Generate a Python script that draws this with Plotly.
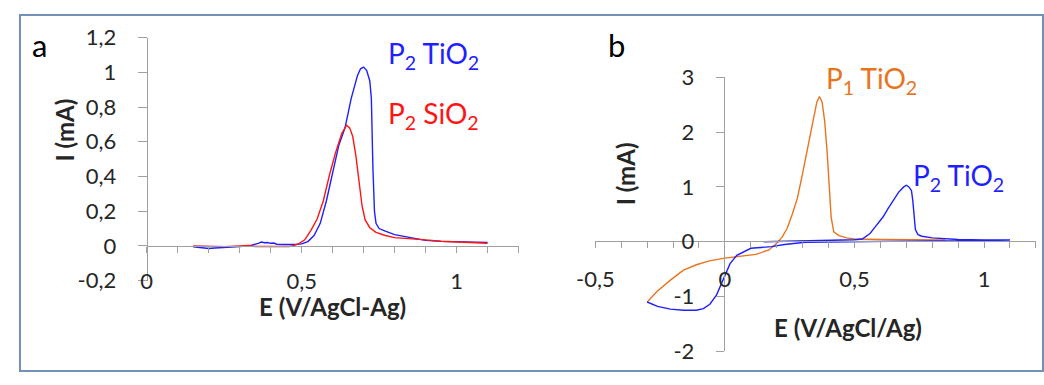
import plotly.graph_objects as go

W, H = 1044, 385
# the photographed page carries the default 8 px body margin and is fitted back into the window;
# positions below are given in window pixels of the reference and converted to figure pixels.
SX, SY = (W + 16) / W, (H + 16) / H

# ---------------- data ----------------
# panel a : P2 on TiO2 (blue)
a_ti_x = [0.15, 0.18, 0.20, 0.22, 0.25, 0.28, 0.30, 0.33, 0.35, 0.36, 0.37, 0.38, 0.39, 0.40,
          0.41, 0.42, 0.44, 0.46, 0.48, 0.50, 0.52, 0.54, 0.56, 0.58, 0.60, 0.62, 0.64, 0.66,
          0.68, 0.69, 0.70, 0.71, 0.72, 0.725, 0.73, 0.735, 0.74, 0.75, 0.77, 0.80, 0.83, 0.86,
          0.90, 0.95, 1.00, 1.05, 1.10]
a_ti_y = [-0.005, -0.012, -0.015, -0.012, -0.010, -0.006, -0.004, 0.000, 0.008, 0.015, 0.022,
          0.018, 0.020, 0.015, 0.017, 0.010, 0.008, 0.006, 0.008, 0.012, 0.025, 0.06, 0.13,
          0.26, 0.42, 0.58, 0.68, 0.85, 0.98, 1.02, 1.03, 1.01, 0.95, 0.85, 0.45, 0.20, 0.13,
          0.10, 0.085, 0.065, 0.055, 0.045, 0.032, 0.026, 0.024, 0.022, 0.020]
# panel a : P2 on SiO2 (red)
a_si_x = [0.15, 0.20, 0.25, 0.30, 0.33, 0.35, 0.38, 0.40, 0.43, 0.46, 0.47, 0.49, 0.51, 0.53,
          0.55, 0.57, 0.59, 0.61, 0.63, 0.645, 0.655, 0.665, 0.675, 0.685, 0.695, 0.705, 0.72,
          0.74, 0.77, 0.80, 0.85, 0.90, 0.95, 1.00, 1.05, 1.10]
a_si_y = [0.000, -0.003, -0.004, 0.000, 0.003, -0.003, -0.004, -0.002, -0.003, -0.003, 0.000,
          0.012, 0.035, 0.09, 0.155, 0.26, 0.41, 0.54, 0.65, 0.695, 0.68, 0.63, 0.52, 0.38,
          0.23, 0.15, 0.105, 0.078, 0.06, 0.048, 0.043, 0.035, 0.027, 0.024, 0.022, 0.015]

# panel b : P2 on TiO2 (blue), full sweep
b_p2_x = [0.15, 0.25, 0.35, 0.45, 0.50, 0.53, 0.56, 0.58, 0.61, 0.63, 0.65, 0.67, 0.69, 0.70,
          0.71, 0.72, 0.725, 0.73, 0.735, 0.745, 0.76, 0.80, 0.85, 0.90, 1.00, 1.10,
          1.00, 0.80, 0.60, 0.45, 0.31, 0.23, 0.18, 0.10, 0.046, 0.02, 0.0, -0.013, -0.032,
          -0.058, -0.083, -0.11, -0.16, -0.21, -0.26, -0.30]
b_p2_y = [0.00, 0.01, 0.02, 0.025, 0.035, 0.05, 0.15, 0.27, 0.45, 0.61, 0.75, 0.90, 1.00, 1.03,
          1.00, 0.93, 0.75, 0.45, 0.22, 0.13, 0.10, 0.07, 0.05, 0.04, 0.03, 0.03,
          0.02, 0.015, 0.01, 0.005, -0.01, -0.05, -0.09, -0.12, -0.25, -0.40, -0.62, -0.79,
          -0.97, -1.14, -1.22, -1.25, -1.25, -1.23, -1.18, -1.10]
# panel b : P1 on TiO2 (orange)
b_p1_x = [-0.30, -0.26, -0.21, -0.16, -0.11, -0.06, 0.0, 0.07, 0.12, 0.17, 0.20, 0.22, 0.24,
          0.26, 0.28, 0.30, 0.32, 0.34, 0.355, 0.365, 0.375, 0.385, 0.395, 0.405, 0.41, 0.42,
          0.44, 0.47, 0.50, 0.60, 0.70, 0.85]
b_p1_y = [-1.10, -0.90, -0.70, -0.52, -0.42, -0.35, -0.30, -0.26, -0.23, -0.15, -0.03, 0.08,
          0.24, 0.50, 0.80, 1.25, 1.75, 2.20, 2.55, 2.65, 2.55, 2.20, 1.60, 0.90, 0.45, 0.18,
          0.11, 0.07, 0.05, 0.04, 0.035, 0.03]

# tick labels
a_xtick_vals = [0, 0.5, 1.0]
a_xtick_text = ["0", "0,5", "1"]
a_ytick_vals = [-0.2, 0, 0.2, 0.4, 0.6, 0.8, 1.0, 1.2]
a_ytick_text = ["-0,2", "0", "0,2", "0,4", "0,6", "0,8", "1", "1,2"]
b_xtick_vals = [-0.5, 0, 0.5, 1.0]
b_xtick_text = ["-0,5", "0", "0,5", "1"]
b_ytick_vals = [-2, -1, 0, 1, 2, 3]
b_ytick_text = ["-2", "-1", "0", "1", "2", "3"]

BLUE = "#1f1fff"
RED = "#ff1414"
ORANGE = "#e8741e"
AXIS = "#a0a0a0"
TXT = "#262626"
FONT = "Lato"


def px(p):  # window pixel -> paper x
    return (p * SX - 8) / W


def py(p):  # window pixel -> paper y
    return 1 - (p * SY - 8) / H


fig = go.Figure()
fig.add_trace(go.Scatter(x=a_si_x, y=a_si_y, mode="lines", line=dict(color=RED, width=1.4),
                         xaxis="x3", yaxis="y", showlegend=False))
fig.add_trace(go.Scatter(x=a_ti_x, y=a_ti_y, mode="lines", line=dict(color=BLUE, width=1.4),
                         xaxis="x", yaxis="y", showlegend=False))
fig.add_trace(go.Scatter(x=b_p1_x, y=b_p1_y, mode="lines", line=dict(color=ORANGE, width=1.4),
                         xaxis="x2", yaxis="y2", showlegend=False))
fig.add_trace(go.Scatter(x=b_p2_x, y=b_p2_y, mode="lines", line=dict(color=BLUE, width=1.4),
                         xaxis="x2", yaxis="y2", showlegend=False))

tickfont = dict(family=FONT, size=22, color=TXT)
common = dict(showgrid=False, zeroline=False, fixedrange=True)
minor_x = dict(ticks="outside", dtick=0.1, tick0=0, ticklen=6, tickcolor=AXIS, tickwidth=1.3, showgrid=False)

fig.update_layout(
    width=W, height=H, autosize=False,
    margin=dict(l=0, r=0, t=0, b=0),
    paper_bgcolor="white", plot_bgcolor="white",
    # panel a : axis line through y = 0 with ticks
    xaxis=dict(domain=[px(136), px(509)], range=[0, 1.2], anchor="free", position=py(247),
               showline=True, linecolor=AXIS, linewidth=1.3, ticks="outside", ticklen=6,
               tickcolor=AXIS, tickwidth=1.3, tickmode="linear", tick0=0, dtick=0.1,
               showticklabels=False, **common),
    # panel a : tick labels at the bottom
    xaxis3=dict(domain=[px(136), px(509)], range=[0, 1.2], anchor="free", position=py(268),
                overlaying="x", showline=False, ticks="", tickvals=a_xtick_vals,
                ticktext=a_xtick_text, tickfont=tickfont, **common),
    yaxis=dict(domain=[py(283), py(32)], range=[-0.2, 1.2], anchor="free", position=px(136),
               showline=True, linecolor=AXIS, linewidth=1.3, ticks="outside", ticklen=9,
               tickcolor=AXIS, tickwidth=1.3, tickvals=a_ytick_vals, ticktext=a_ytick_text,
               tickfont=tickfont, ticklabelstandoff=17, **common),
    # panel b
    xaxis2=dict(domain=[px(586), px(1028)], range=[-0.5, 1.2], anchor="free", position=py(242),
                showline=True, linecolor=AXIS, linewidth=1.3, ticks="outside", ticklen=6,
                tickcolor=AXIS, tickwidth=1.3, tickvals=b_xtick_vals, ticktext=b_xtick_text,
                tickfont=tickfont, ticklabelstandoff=13, minor=minor_x, **common),
    yaxis2=dict(domain=[py(356), py(73)], range=[-2, 3], anchor="free", position=px(715),
                showline=True, linecolor=AXIS, linewidth=1.3, ticks="outside", ticklen=8,
                tickcolor=AXIS, tickwidth=1.3, tickvals=b_ytick_vals, ticktext=b_ytick_text,
                tickfont=tickfont, ticklabelstandoff=17, **common),
)

ann = []
def note(text, x, y, size, color=TXT, bold=False, angle=0, xanchor="center"):
    ann.append(dict(text=("<b>%s</b>" % text) if bold else text, x=px(x), y=py(y),
                    xref="paper", yref="paper", showarrow=False, xanchor=xanchor,
                    yanchor="middle", textangle=angle,
                    font=dict(family=FONT, size=size, color=color)))

note("a", 19, 40, 31, color="black", xanchor="left")
note("b", 597, 40, 31, color="black", xanchor="left")
note("I (mA)", 54, 127, 24, bold=True, angle=-90)
note("E (V/AgCl-Ag)", 322, 310, 24, bold=True)
note("I (mA)", 616, 173, 24, bold=True, angle=-90)
note("E (V/AgCl/Ag)", 840, 331, 24, bold=True)
note("P<sub>2</sub> TiO<sub>2</sub>", 376, 50, 28, color=BLUE, xanchor="left")
note("P<sub>2</sub> SiO<sub>2</sub>", 376, 112, 28, color=RED, xanchor="left")
note("P<sub>1</sub> TiO<sub>2</sub>", 815, 76, 28, color=ORANGE, xanchor="left")
note("P<sub>2</sub> TiO<sub>2</sub>", 903, 176, 28, color=BLUE, xanchor="left")
fig.update_layout(annotations=ann)

# outer frame, as close to the window edge as the page allows
fig.add_shape(type="rect", xref="paper", yref="paper", x0=1 / W, x1=1 - 1 / W, y0=1 / H, y1=1 - 1 / H,
              line=dict(color="#7391b8", width=2), fillcolor="rgba(0,0,0,0)", layer="above")

fig.write_html("out.html")
